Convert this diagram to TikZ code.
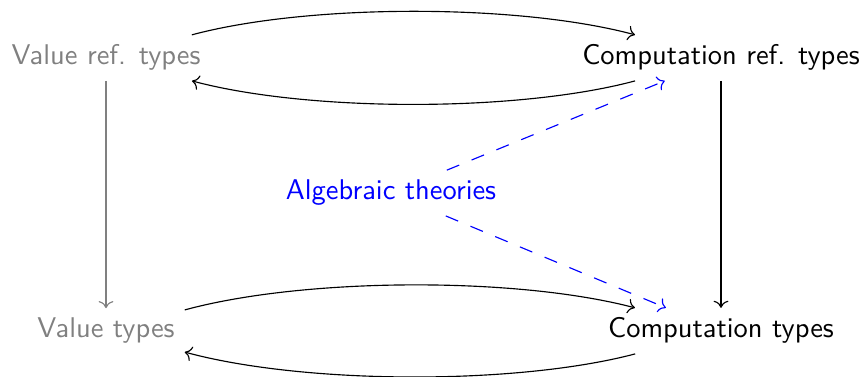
\documentclass[tikz,border=0pt]{standalone}
\usepackage{tikz}
\usetikzlibrary{arrows.meta}
\definecolor{valgray}{RGB}{128,128,128}
\definecolor{theoryblue}{RGB}{0,0,255}
\tikzset{
  typ/.style={anchor=base,font=\sffamily},
  valtyp/.style={typ,text=valgray},
  comptyp/.style={typ,text=black},
  theory/.style={typ,text=theoryblue},
  map/.style={->,thin},
  bendmap/.style={map,bend left=15,looseness=0.7},
  valmap/.style={map,draw=valgray},
  thymap/.style={map,draw=theoryblue,dash pattern=on 4.7pt off 4.7pt}
}
\begin{document}
\begin{tikzpicture}[x=0.351pt,y=-0.351pt]
  \useasboundingbox (0,0) rectangle (867,377);
  \node[valtyp] (vref) at (106,65) {Value ref. types};
  \node[comptyp] (cref) at (721,65) {Computation ref. types};
  \node[valtyp] (val) at (106,338) {Value types};
  \node[comptyp] (comp) at (721,338) {Computation types};
  \node[theory] (alg) at (391,200) {Algebraic theories};
  % top and bottom rows
  \draw[bendmap] (vref) to (cref);
  \draw[bendmap] (cref) to (vref);
  \draw[bendmap] (val) to (comp);
  \draw[bendmap] (comp) to (val);
  % columns
  \draw[valmap] (vref) -- (val);
  \draw[map] (cref) -- (comp);
  % theories
  \draw[thymap] (alg) -- (cref);
  \draw[thymap] (alg) -- (comp);
\end{tikzpicture}
\end{document}
